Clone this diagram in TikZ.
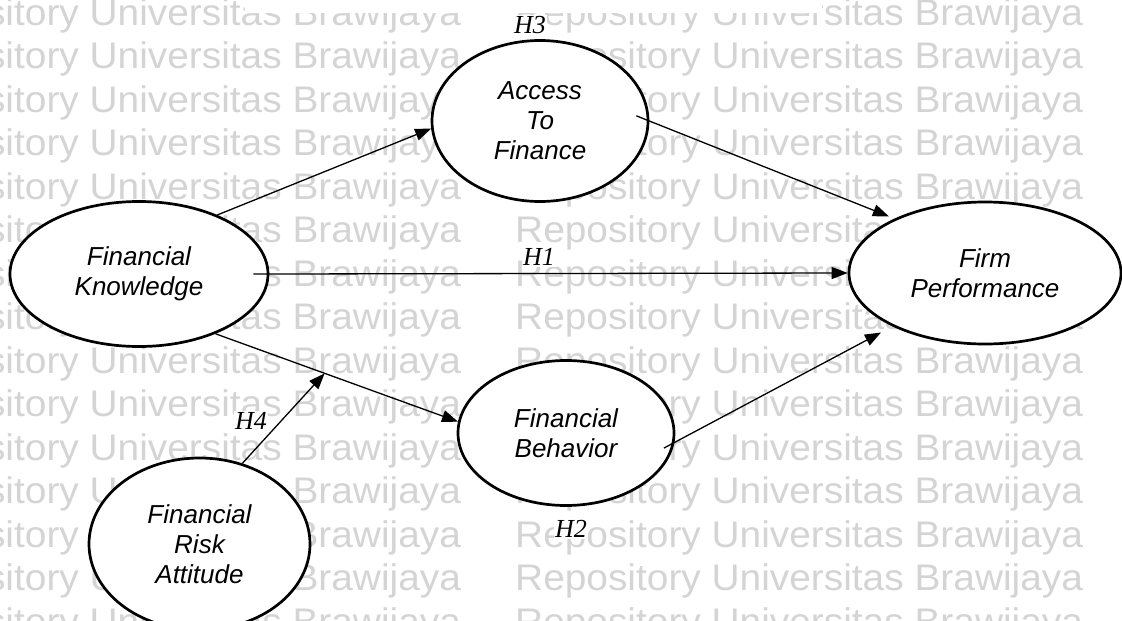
\documentclass[tikz,border=0pt]{standalone}
\usepackage{fontspec}
\newfontfamily\lbsans{Liberation Sans}
\newfontfamily\lbserif{Liberation Serif}
\usetikzlibrary{shapes.geometric,arrows.meta,calc}
\definecolor{wmgray}{RGB}{212,212,212}
\tikzset{
  construct/.style={ellipse, draw, line width=2.7pt, fill=white, inner sep=0pt,
    align=center, font=\lbsans\itshape\fontsize{26}{30}\selectfont},
  link/.style={line width=1.3pt, -{Triangle[length=16pt,width=12pt]}},
  hyp/.style={font=\lbserif\itshape\fontsize{26}{30}\selectfont, fill=white, inner sep=1pt},
  wm/.style={font=\lbsans\fontsize{37}{40}\selectfont, text=wmgray, anchor=base west,
    inner sep=0pt, xscale=1.05}
}
\begin{document}
\begin{tikzpicture}[x=1pt,y=-1pt]
\useasboundingbox (0,0) rectangle (1122,621);
\clip (0,0) rectangle (1122,621);

% background watermark rows
\foreach \n in {0,...,14} {
  \node[wm] (wa\n) at (-107,{25+43.5*\n}) {Repository Universitas Brawijaya};
  \node[wm] (wb\n) at (515,{25+43.5*\n}) {Repository Universitas Brawijaya};
}
% blank strip of the label box at the top edge
\fill[white] (245,0) rectangle (822,13);

% hypothesis labels
\node[hyp] (h3) at (530,25) {H3};
\node[hyp] (h1) at (539,257) {H1};
\node[hyp] (h2) at (571,529) {H2};
\node[hyp] (h4) at (251,421) {H4};

% constructs
\node[construct, minimum width=258pt, minimum height=145pt] (fk) at (139,274) {Financial\\Knowledge};
\node[construct, minimum width=216pt, minimum height=161pt] (atf) at (540,121) {Access\\To\\Finance};
\node[construct, minimum width=272pt, minimum height=142pt] (fp) at (985,273) {Firm\\Performance};
\node[construct, minimum width=216pt, minimum height=145pt] (fb) at (566,433) {Financial\\Behavior};
\node[construct, minimum width=221pt, minimum height=172pt] (fra) at (199.5,544) {Financial\\Risk\\Attitude};

% paths
\draw[link] (fk.37) -- (atf.184);
\draw[link, shorten <=-14pt, shorten >=6pt] (atf.0) -- (fp.149);
\draw[link, shorten <=-16pt] (fk.east) -- (fp.west);
\draw[link] (fk.-38) -- (fb.174);
\coordinate (m) at ($(fk.-38)!0.45!(fb.174)$);
\draw[link] (fra.62) -- (m);
\draw[link, shorten <=-12pt, shorten >=13pt] (fb.-5.5) -- (fp.210);
\end{tikzpicture}
\end{document}
